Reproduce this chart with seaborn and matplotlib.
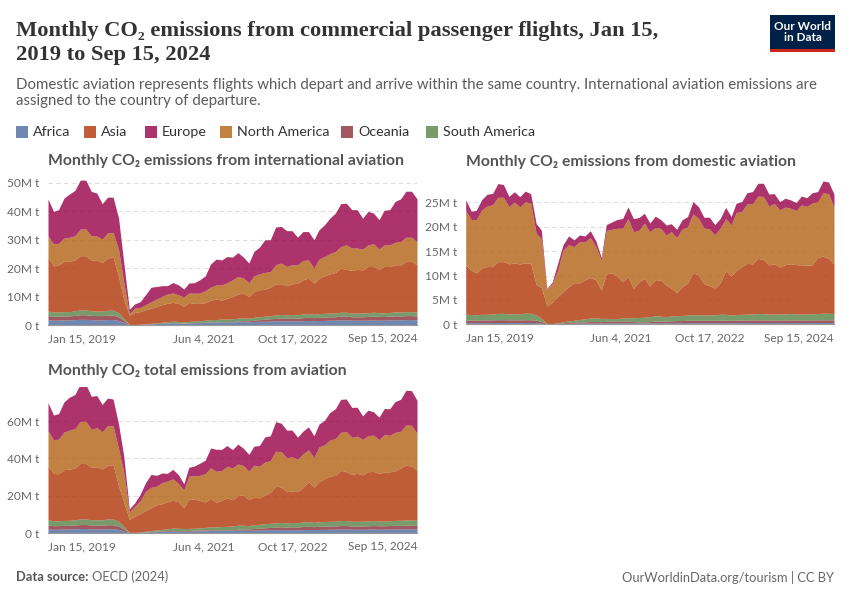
import numpy as np
import pandas as pd
import matplotlib
matplotlib.use("Agg")
import matplotlib.pyplot as plt
import matplotlib.dates as mdates
from matplotlib.patches import Rectangle
import seaborn as sns

# ---------------- data (million tonnes CO2), monthly Jan 2019 .. Sep 2024 ----------------
regions = ["Africa", "Asia", "Europe", "North America", "Oceania", "South America"]
stack_order = ["Africa", "Oceania", "South America", "Asia", "North America", "Europe"]
colors = {"Africa": "#4C6A9C", "Asia": "#B13507", "Europe": "#970046",
          "North America": "#B16214", "Oceania": "#883039", "South America": "#578145"}

# International aviation
int_africa = [1.8,1.7,1.7,1.8,1.8,1.9,2.0,2.0,1.9,1.8,1.8,1.9,1.9,1.6,0.9,
              0.1,0.1,0.2,0.3,0.4,0.5,0.6,0.7,0.8,0.7,0.6,0.7,0.8,0.8,0.9,1.0,1.0,1.1,1.1,1.1,
              1.2,1.2,1.1,1.2,1.3,1.3,1.4,1.4,1.5,1.4,1.5,1.4,1.5,1.6,1.5,1.6,1.6,1.7,1.7,1.8,
              1.8,1.7,1.7,1.7,1.7,1.8,1.7,1.7,1.8,1.8,1.8,1.9,1.9,1.8]
int_oceania = [1.5,1.4,1.4,1.4,1.4,1.5,1.6,1.6,1.5,1.5,1.5,1.6,1.6,1.3,0.7,
               0.05,0.05,0.05,0.05,0.05,0.05,0.05,0.05,0.05,0.05,0.05,0.05,0.1,0.1,0.1,0.1,0.1,0.1,0.1,0.1,
               0.2,0.3,0.4,0.5,0.6,0.7,0.8,0.9,1.0,1.0,1.0,1.0,1.1,1.1,1.1,1.1,1.2,1.2,1.2,1.3,
               1.3,1.2,1.2,1.2,1.3,1.3,1.3,1.3,1.3,1.4,1.4,1.4,1.4,1.4]
int_samerica = [1.6,1.5,1.5,1.5,1.5,1.6,1.7,1.7,1.6,1.6,1.6,1.7,1.7,1.4,0.8,
                0.05,0.05,0.05,0.1,0.15,0.2,0.3,0.4,0.5,0.5,0.5,0.5,0.5,0.6,0.7,0.8,0.8,0.9,0.9,1.0,
                1.0,1.0,0.9,1.0,1.0,1.1,1.1,1.2,1.2,1.2,1.2,1.2,1.3,1.3,1.2,1.3,1.3,1.3,1.3,1.4,
                1.4,1.3,1.3,1.3,1.3,1.4,1.3,1.3,1.3,1.4,1.4,1.4,1.4,1.4]
int_asia = [19.0,16.2,16.6,17.7,17.7,17.9,19.1,19.1,17.9,18.0,17.1,18.3,18.9,12.7,6.6,
            3.3,4.2,4.4,4.9,5.3,5.8,6.2,6.5,6.6,6.4,5.4,6.7,6.2,6.1,6.2,6.9,7.2,6.7,7.3,7.8,
            8.5,8.7,7.6,9.1,9.5,9.5,10.0,11.0,10.8,10.2,10.8,11.1,12.0,12.5,10.9,12.5,13.2,13.8,14.3,15.5,
            15.1,15.0,15.4,15.2,16.3,16.1,15.3,16.3,16.2,16.6,16.6,17.7,17.7,16.6]
int_namerica = [7.5,7.7,7.6,8.2,8.5,8.5,9.4,9.4,8.5,8.5,8.2,8.9,8.5,9.5,6.0,
                0.6,1.5,1.5,1.8,2.3,2.6,2.9,3.3,3.3,3.0,3.3,3.3,3.6,3.6,4.2,4.5,5.0,5.3,5.5,5.9,
                6.2,5.3,4.9,5.5,5.6,5.9,5.5,6.7,7.3,6.8,6.7,6.5,6.8,6.4,5.3,6.7,6.8,7.1,7.4,7.6,
                8.6,7.9,7.5,7.3,7.6,8.0,7.1,7.6,7.6,7.9,8.2,8.5,8.5,8.2]
int_europe = [13.0,11.5,11.8,14.1,15.2,16.0,17.2,17.2,15.6,15.1,12.5,12.6,12.4,11.1,7.0,
              1.4,1.5,2.0,3.5,5.1,4.4,3.8,2.9,3.7,3.5,2.8,3.5,3.7,4.7,5.2,8.2,9.1,8.8,9.2,8.0,
              8.4,7.4,6.9,8.6,9.4,11.5,11.2,13.3,12.9,12.6,12.0,9.7,10.2,10.0,10.0,10.3,11.2,12.5,13.5,15.1,
              14.7,13.5,13.5,10.9,11.8,10.8,10.4,12.2,12.4,14.4,15.0,16.2,16.2,15.0]

# Domestic aviation
dom_africa = [0.35,0.33,0.34,0.35,0.35,0.36,0.37,0.37,0.35,0.36,0.35,0.37,0.36,0.33,0.25,
              0.05,0.05,0.1,0.15,0.2,0.22,0.25,0.25,0.27,0.27,0.25,0.27,0.28,0.28,0.29,0.3,0.3,0.3,0.3,0.3,
              0.31,0.31,0.3,0.31,0.31,0.32,0.32,0.33,0.33,0.32,0.32,0.32,0.33,0.33,0.32,0.33,0.33,0.34,0.34,0.35,
              0.35,0.34,0.34,0.34,0.34,0.35,0.34,0.34,0.35,0.35,0.35,0.36,0.36,0.35]
dom_oceania = [0.55,0.5,0.52,0.55,0.55,0.55,0.57,0.57,0.55,0.56,0.55,0.57,0.56,0.5,0.35,
               0.05,0.05,0.1,0.15,0.2,0.2,0.25,0.25,0.3,0.3,0.3,0.35,0.4,0.4,0.4,0.35,0.25,0.2,0.2,0.25,
               0.35,0.35,0.35,0.4,0.45,0.45,0.5,0.5,0.5,0.5,0.52,0.52,0.53,0.53,0.5,0.53,0.54,0.54,0.55,0.55,
               0.55,0.54,0.54,0.54,0.54,0.55,0.54,0.54,0.55,0.55,0.55,0.56,0.56,0.55]
dom_samerica = [1.2,1.15,1.1,1.15,1.15,1.2,1.3,1.3,1.2,1.25,1.25,1.35,1.35,1.1,0.6,
                0.05,0.05,0.1,0.2,0.3,0.4,0.5,0.6,0.7,0.75,0.65,0.6,0.5,0.5,0.6,0.7,0.8,0.9,0.95,1.0,
                1.1,1.0,0.9,1.0,1.0,1.05,1.05,1.1,1.1,1.1,1.1,1.1,1.2,1.2,1.05,1.15,1.15,1.2,1.2,1.3,
                1.3,1.2,1.2,1.25,1.25,1.3,1.25,1.2,1.25,1.25,1.3,1.35,1.35,1.3]
dom_asia = [10.1,9.1,8.6,9.5,9.8,9.7,10.6,10.6,10.3,10.4,10.2,10.3,10.3,6.2,6.4,
            3.6,4.4,5.4,6.2,7.0,7.7,7.5,8.0,8.3,7.8,5.8,9.1,9.4,8.6,7.4,8.4,6.0,7.3,8.0,6.3,
            7.4,7.4,6.5,5.7,4.7,5.9,6.6,8.7,8.2,6.4,6.0,5.5,6.4,9.0,8.0,9.0,9.8,10.4,10.3,11.3,
            11.1,10.1,10.3,9.6,10.1,10.2,10.1,10.1,10.0,10.0,11.5,11.7,11.2,10.2]
dom_namerica = [11.1,10.4,10.9,11.9,12.4,12.7,13.2,13.2,11.7,12.5,11.7,12.5,12.3,10.5,10.0,
                3.4,3.8,5.4,8.5,8.6,7.4,8.4,7.8,8.2,6.8,6.2,8.9,8.9,9.9,11.0,11.9,11.6,10.6,11.3,11.1,
                10.7,10.6,10.2,11.6,11.3,11.8,11.5,12.0,11.6,11.4,11.6,10.9,11.2,10.6,10.5,11.9,11.3,12.2,12.3,12.8,
                12.9,12.0,12.4,11.7,11.8,11.4,11.1,12.3,12.0,12.7,11.4,13.0,13.3,11.6]
dom_europe = [2.2,1.7,1.9,2.1,2.4,2.3,2.8,2.6,2.1,2.1,2.1,2.2,1.9,2.0,1.7,
              0.2,0.3,1.4,1.1,1.8,1.4,1.4,1.2,1.4,1.2,0.5,1.2,1.5,1.8,2.0,2.4,2.7,2.6,2.0,1.8,
              2.3,1.8,2.1,1.6,1.7,1.9,2.1,2.5,2.4,2.2,2.4,2.1,2.0,2.3,1.7,1.9,2.0,2.3,2.5,2.6,
              2.7,2.5,2.0,1.7,1.8,1.7,1.6,1.8,1.8,2.1,2.1,2.4,2.4,2.7]

dates = pd.date_range("2019-01-01", periods=69, freq="MS") + pd.Timedelta(days=14)
tick_dates = ["2019-01-15", "2021-06-04", "2022-10-17", "2024-09-15"]
tick_labels = ["Jan 15, 2019", "Jun 4, 2021", "Oct 17, 2022", "Sep 15, 2024"]

intl = pd.DataFrame({"Africa": int_africa, "Asia": int_asia, "Europe": int_europe,
                     "North America": int_namerica, "Oceania": int_oceania,
                     "South America": int_samerica}, index=dates)
dom = pd.DataFrame({"Africa": dom_africa, "Asia": dom_asia, "Europe": dom_europe,
                    "North America": dom_namerica, "Oceania": dom_oceania,
                    "South America": dom_samerica}, index=dates)
total = intl + dom

# ---------------- style ----------------
sns.set_theme(style="white")
plt.rcParams["font.family"] = ["Lato", "DejaVu Sans"]

GREY_TXT = "#5b5b5b"
TICK_TXT = "#666666"

fig = plt.figure(figsize=(8.5, 6), dpi=100)
fig.patch.set_facecolor("white")

def px(x, y):
    return x / 850, 1 - y / 600

def panel(rect_px, df, ymax, yticks, ylabels, title):
    x0, ytop, x1, y0 = rect_px
    ax = fig.add_axes([x0 / 850, 1 - y0 / 600, (x1 - x0) / 850, (y0 - ytop) / 600])
    ax.set_facecolor("none")
    ax.stackplot(df.index, [df[r].values for r in stack_order],
                 colors=[colors[r] for r in stack_order], alpha=0.8, linewidth=0)
    ax.set_xlim(pd.Timestamp("2019-01-15"), pd.Timestamp("2024-09-15"))
    ax.set_ylim(0, ymax)
    ax.set_yticks(yticks)
    ax.set_yticklabels(ylabels, color=TICK_TXT, fontsize=8.6)
    for t in yticks:
        if t > 0:
            ax.axhline(t, color="#dddddd", lw=0.8, ls=(0, (4, 3)), zorder=0)
    ax.set_xticks([pd.Timestamp(d) for d in tick_dates])
    ax.set_xticklabels(tick_labels, color=TICK_TXT, fontsize=8.6)
    labs = ax.get_xticklabels()
    labs[0].set_ha("left")
    labs[-1].set_ha("right")
    for s in ["top", "right", "left"]:
        ax.spines[s].set_visible(False)
    ax.spines["bottom"].set_color("#999999")
    ax.spines["bottom"].set_linewidth(0.8)
    ax.tick_params(axis="x", length=4, width=0.8, color="#999999", pad=2)
    ax.tick_params(axis="y", length=0, pad=6)
    ax.set_xlabel("")
    ax.set_ylabel("")
    fig.text(x0 / 850, 1 - (ytop - 16) / 600, title, fontsize=11.3, fontweight="bold",
             color="#555555", ha="left", va="center")
    return ax

panel((48, 177.3, 417, 325), intl, 52, [0, 10, 20, 30, 40, 50],
      ["0 t", "10M t", "20M t", "30M t", "40M t", "50M t"],
      "Monthly CO₂ emissions from international aviation")
panel((465.7, 177.9, 834, 324.3), dom, 30, [0, 5, 10, 15, 20, 25],
      ["0 t", "5M t", "10M t", "15M t", "20M t", "25M t"],
      "Monthly CO₂ emissions from domestic aviation")
panel((48, 387.4, 417, 533), total, 78, [0, 20, 40, 60],
      ["0 t", "20M t", "40M t", "60M t"],
      "Monthly CO₂ total emissions from aviation")

# ---------------- header ----------------
fig.text(16 / 850, 1 - 43 / 600,
         "Monthly CO₂ emissions from commercial passenger flights, Jan 15,\n2019 to Sep 15, 2024",
         fontsize=16.2, family=["Liberation Serif", "DejaVu Serif"], color="#333333",
         fontweight="bold", ha="left", va="center", linespacing=1.3)
fig.text(16 / 850, 1 - 93 / 600,
         "Domestic aviation represents flights which depart and arrive within the same country. International aviation emissions are\nassigned to the country of departure.",
         fontsize=10.8, color=GREY_TXT, ha="left", va="center", linespacing=1.25)

# legend
leg_x = [16, 84, 145, 220, 341, 426]
for xx, r in zip(leg_x, regions):
    fig.patches.append(Rectangle(px(xx, 138), 12 / 850, 12 / 600, transform=fig.transFigure,
                                 facecolor=colors[r], alpha=0.8, edgecolor="none"))
    fig.text((xx + 17) / 850, 1 - 132 / 600, r, fontsize=10.3, color="#333333",
             ha="left", va="center")

# logo
fig.patches.append(Rectangle(px(770, 52), 65 / 850, 37 / 600, transform=fig.transFigure,
                             facecolor="#002147", edgecolor="none"))
fig.patches.append(Rectangle(px(770, 52), 65 / 850, 3 / 600, transform=fig.transFigure,
                             facecolor="#CE261E", edgecolor="none"))
fig.text(802.5 / 850, 1 - 32 / 600, "Our World\nin Data", fontsize=8.5, color="white",
         ha="center", va="center", linespacing=1.05, fontweight="bold")

# footer
fig.text(16 / 850, 1 - 577 / 600, "Data source:", fontsize=9.3, color="#555555",
         fontweight="bold", ha="left", va="center")
fig.text(92 / 850, 1 - 577 / 600, "OECD (2024)", fontsize=9.3, color="#666666",
         ha="left", va="center")
fig.text(834 / 850, 1 - 577 / 600, "OurWorldinData.org/tourism | CC BY", fontsize=9.3,
         color="#666666", ha="right", va="center")

fig.savefig("out.png", dpi=100, facecolor="white")
